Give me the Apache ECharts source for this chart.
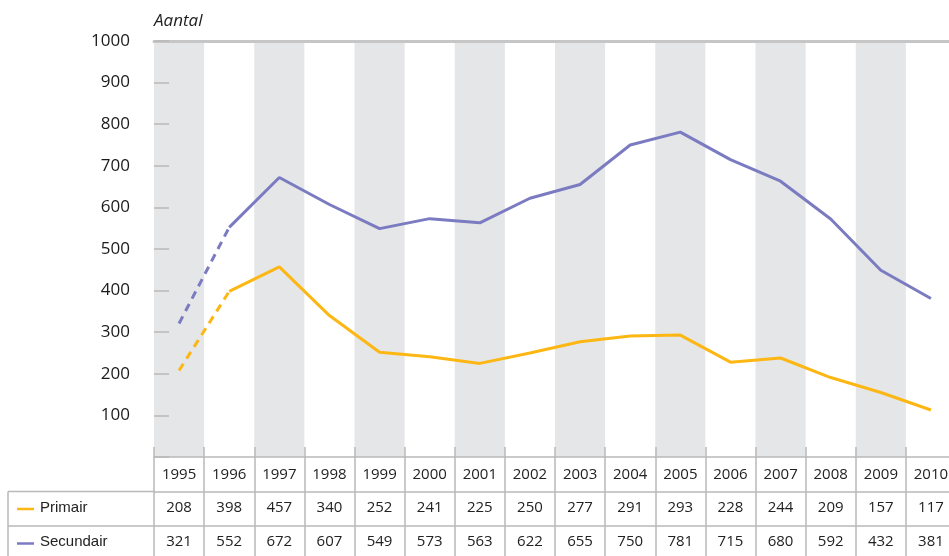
<!DOCTYPE html>
<html>
<head>
<meta charset="utf-8">
<script src="https://cdn.jsdelivr.net/npm/echarts@6/dist/echarts.min.js"></script>
<style>
html,body{margin:0;padding:0;background:#fff;}
#chart{width:949px;height:556px;}
</style>
</head>
<body>
<div id="chart"></div>
<script>
// Categories
const years = ['1995','1996','1997','1998','1999','2000','2001','2002','2003','2004','2005','2006','2007','2008','2009','2010'];
// Values as printed in the table
const primairTable   = [208, 398, 457, 340, 252, 241, 225, 250, 277, 291, 293, 228, 244, 209, 157, 117];
const secundairTable = [321, 552, 672, 607, 549, 573, 563, 622, 655, 750, 781, 715, 680, 592, 432, 381];
// Values as drawn by the lines
const primairPlot    = [208, 398, 457, 340, 252, 241, 225, 250, 277, 291, 293, 228, 238, 191, 155, 113];
const secundairPlot  = [321, 552, 672, 607, 549, 573, 563, 622, 655, 750, 781, 715, 663, 572, 449, 381];
// Y tick values
const yTicks = [100, 200, 300, 400, 500, 600, 700, 800, 900, 1000];

const seriesNames = ['Primair', 'Secundair'];
const colors = ['#FDB714', '#7B7BC1'];

const FONT = '"Open Sans", "Noto Sans", sans-serif';
const GRID = '#b9b9b9';

function dashedPart(arr){ return arr.map((v,i)=> i<=1 ? v : null); }
function solidPart(arr){ return arr.map((v,i)=> i>=1 ? v : null); }

const chart = echarts.init(document.getElementById('chart'), null, {renderer:'canvas'});

const baseX = {type:'category', data: years, boundaryGap: true, gridIndex: 0};

const option = {
  animation: false,
  backgroundColor: '#fff',
  textStyle: {fontFamily: FONT},
  grid: {left: 154, top: 41, width: 802, height: 416, containLabel: false, outerBoundsMode: 'none'},
  xAxis: [
    Object.assign({}, baseX, {
      position: 'bottom',
      axisLine: {show: true, lineStyle: {color: GRID, width: 1.5}},
      axisTick: {show: true, inside: true, length: 10, interval: 0, lineStyle: {color: GRID, width: 1.5}},
      axisLabel: {show: false},
      splitLine: {show: false},
      splitArea: {show: true, interval: 0, areaStyle: {color: ['#e5e6e8', 'rgba(255,255,255,0)']}}
    }),
    Object.assign({}, baseX, {
      position: 'bottom', offset: 0,
      axisLine: {show: false},
      axisTick: {show: true, inside: false, length: 100, interval: 0, lineStyle: {color: GRID, width: 1.5}},
      axisLabel: {show: true, interval: 0, margin: 10, fontSize: 15, color: '#222', fontFamily: FONT}
    }),
    Object.assign({}, baseX, {
      position: 'bottom', offset: 34.5,
      axisLine: {show: true, lineStyle: {color: GRID, width: 1.5}},
      axisTick: {show: false},
      axisLabel: {show: true, interval: 0, margin: 9, fontSize: 15, color: '#222', fontFamily: FONT,
        formatter: (v, i) => String(primairTable[i])}
    }),
    Object.assign({}, baseX, {
      position: 'bottom', offset: 69,
      axisLine: {show: true, lineStyle: {color: GRID, width: 1.5}},
      axisTick: {show: false},
      axisLabel: {show: true, interval: 0, margin: 8, fontSize: 15, color: '#222', fontFamily: FONT,
        formatter: (v, i) => String(secundairTable[i])}
    }),
    Object.assign({}, baseX, {
      position: 'top',
      axisLine: {show: true, lineStyle: {color: '#c6c6c6', width: 3}},
      axisTick: {show: false},
      axisLabel: {show: false}
    })
  ],
  yAxis: {
    type: 'value', min: 0, max: yTicks[yTicks.length-1], interval: yTicks[0],
    name: 'Aantal', nameLocation: 'end', nameGap: 11,
    nameTextStyle: {fontStyle: 'italic', fontSize: 17, color: '#222', align: 'left', fontFamily: FONT},
    axisLine: {show: false},
    axisTick: {show: true, inside: true, length: 15, lineStyle: {color: GRID, width: 1.5}},
    axisLabel: {fontSize: 17, color: '#1a1a1a', margin: 24, fontFamily: FONT,
      formatter: v => yTicks.indexOf(v) >= 0 ? String(v) : ''},
    splitLine: {show: false}
  },
  series: [
    {name: seriesNames[0]+' dash', type: 'line', data: dashedPart(primairPlot), symbol: 'none', connectNulls: false,
     lineStyle: {color: colors[0], width: 3, type: [8, 6]}, z: 3},
    {name: seriesNames[0], type: 'line', data: solidPart(primairPlot), symbol: 'none', connectNulls: false,
     lineStyle: {color: colors[0], width: 3}, z: 3},
    {name: seriesNames[1]+' dash', type: 'line', data: dashedPart(secundairPlot), symbol: 'none', connectNulls: false,
     lineStyle: {color: colors[1], width: 3, type: [8, 6]}, z: 3},
    {name: seriesNames[1], type: 'line', data: solidPart(secundairPlot), symbol: 'none', connectNulls: false,
     lineStyle: {color: colors[1], width: 3}, z: 3}
  ],
  graphic: [
    // left legend column of the table
    {type: 'line', shape: {x1: 8, y1: 491.5, x2: 155, y2: 491.5}, style: {stroke: GRID, lineWidth: 1.5}},
    {type: 'line', shape: {x1: 8, y1: 526, x2: 155, y2: 526}, style: {stroke: GRID, lineWidth: 1.5}},
    {type: 'line', shape: {x1: 8, y1: 491.5, x2: 8, y2: 556}, style: {stroke: GRID, lineWidth: 1.5}},
    {type: 'line', shape: {x1: 17, y1: 509, x2: 34, y2: 509}, style: {stroke: colors[0], lineWidth: 2.5}},
    {type: 'line', shape: {x1: 17, y1: 543.5, x2: 34, y2: 543.5}, style: {stroke: colors[1], lineWidth: 2.5}},
    {type: 'text', left: 40, top: 500, style: {text: seriesNames[0], fontSize: 15, fill: '#222', font: '15px ' + FONT}},
    {type: 'text', left: 40, top: 534, style: {text: seriesNames[1], fontSize: 15, fill: '#222', font: '15px ' + FONT}}
  ]
};
chart.setOption(option);
</script>
</body>
</html>
